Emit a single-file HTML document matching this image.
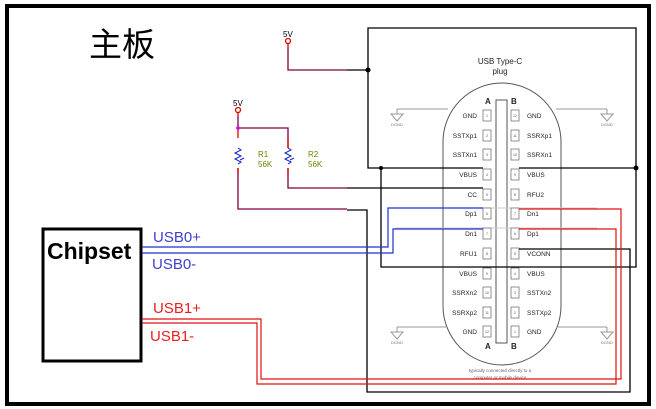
<!DOCTYPE html>
<html><head><meta charset="utf-8"><style>
html,body{margin:0;padding:0;background:#fff;}
svg{display:block;font-family:"Liberation Sans",Arial,sans-serif;}
</style></head><body>
<svg width="656" height="409" viewBox="0 0 656 409" xmlns="http://www.w3.org/2000/svg">
<rect x="7" y="6" width="642" height="398" fill="none" stroke="#000" stroke-width="4"/>
<text x="89" y="56" font-size="33" font-family="'Noto Sans CJK SC',sans-serif" fill="#000">主板</text>

<!-- connector -->
<g fill="none" stroke="#555" stroke-width="1">
<path d="M443,142 A59,59 0 0 1 561,142 L561,306 A59,59 0 0 1 443,306 Z"/>
<path d="M496,343 L496,100 L507,100 L507,343 Z"/>
</g>
<g stroke="#999" stroke-width="1" fill="none">
<path d="M397,109 H448 M556,109 H607 M397,109 V114 M607,109 V114 M397,327 H446 M558,327 H607 M397,327 V332 M607,327 V332"/>
<path d="M391,114 H403 L397,121 Z M601,114 H613 L607,121 Z M391,332 H403 L397,339 Z M601,332 H613 L607,339 Z"/>
<path d="M395,208 H597 M395,228 H597" stroke="#ccc"/>
</g>
<g font-size="4" fill="#777"><text x="391" y="126">DGND</text><text x="601" y="126">DGND</text><text x="391" y="344">DGND</text><text x="601" y="344">DGND</text></g>
<text x="500" y="64" font-size="8" text-anchor="middle" fill="#222">USB Type-C</text>
<text x="500" y="74" font-size="8" text-anchor="middle" fill="#222">plug</text>
<text x="485" y="104" font-size="8" font-weight="bold" fill="#222">A</text>
<text x="511" y="104" font-size="8" font-weight="bold" fill="#222">B</text>
<text x="485" y="349" font-size="8" font-weight="bold" fill="#222">A</text>
<text x="511" y="349" font-size="8" font-weight="bold" fill="#222">B</text>
<g font-size="6.5" fill="#222">
<g text-anchor="end">
<text x="477" y="118">GND</text><text x="477" y="138">SSTXp1</text><text x="477" y="157">SSTXn1</text><text x="477" y="177">VBUS</text><text x="477" y="197">CC</text><text x="477" y="216">Dp1</text><text x="477" y="236">Dn1</text><text x="477" y="256">RFU1</text><text x="477" y="276">VBUS</text><text x="477" y="295">SSRXn2</text><text x="477" y="315">SSRXp2</text><text x="477" y="334">GND</text>
</g>
<text x="527" y="118">GND</text><text x="527" y="138">SSRXp1</text><text x="527" y="157">SSRXn1</text><text x="527" y="177">VBUS</text><text x="527" y="197">RFU2</text><text x="527" y="216">Dn1</text><text x="527" y="236">Dp1</text><text x="527" y="256">VCONN</text><text x="527" y="276">VBUS</text><text x="527" y="295">SSTXn2</text><text x="527" y="315">SSTXp2</text><text x="527" y="334">GND</text>
</g>
<g fill="#fff" stroke="#777" stroke-width="0.8">
<rect x="483" y="110" width="8" height="11"/><rect x="483" y="130" width="8" height="11"/><rect x="483" y="149" width="8" height="11"/><rect x="483" y="169" width="8" height="11"/><rect x="483" y="189" width="8" height="11"/><rect x="483" y="208" width="8" height="11"/><rect x="483" y="228" width="8" height="11"/><rect x="483" y="248" width="8" height="11"/><rect x="483" y="268" width="8" height="11"/><rect x="483" y="287" width="8" height="11"/><rect x="483" y="307" width="8" height="11"/><rect x="483" y="326" width="8" height="11"/>
<rect x="511" y="110" width="8" height="11"/><rect x="511" y="130" width="8" height="11"/><rect x="511" y="149" width="8" height="11"/><rect x="511" y="169" width="8" height="11"/><rect x="511" y="189" width="8" height="11"/><rect x="511" y="208" width="8" height="11"/><rect x="511" y="228" width="8" height="11"/><rect x="511" y="248" width="8" height="11"/><rect x="511" y="268" width="8" height="11"/><rect x="511" y="287" width="8" height="11"/><rect x="511" y="307" width="8" height="11"/><rect x="511" y="326" width="8" height="11"/>
</g>
<g font-size="3.5" fill="#555" text-anchor="middle">
<text x="487" y="117">1</text><text x="487" y="137">2</text><text x="487" y="156">3</text><text x="487" y="176">4</text><text x="487" y="196">5</text><text x="487" y="215">6</text><text x="487" y="235">7</text><text x="487" y="255">8</text><text x="487" y="275">9</text><text x="487" y="294">10</text><text x="487" y="314">11</text><text x="487" y="333">12</text>
<text x="515" y="117">12</text><text x="515" y="137">11</text><text x="515" y="156">10</text><text x="515" y="176">9</text><text x="515" y="196">8</text><text x="515" y="215">7</text><text x="515" y="235">6</text><text x="515" y="255">5</text><text x="515" y="275">4</text><text x="515" y="294">3</text><text x="515" y="314">2</text><text x="515" y="333">1</text>
</g>
<text x="500" y="372" font-size="4.5" text-anchor="middle" fill="#666">typically connected directly to a</text>
<text x="500" y="379" font-size="4.5" text-anchor="middle" fill="#666">computer or mobile device</text>

<!-- black wiring -->
<g fill="none" stroke="#000" stroke-width="1.3">
<path d="M368,70 V28 H636 V267 H381 V168 H368 V70"/>
<path d="M381,168 H483 M519,168 H636"/>
<path d="M347,70 H368"/>
<path d="M347,188 H483"/>
<path d="M347,210 H367 V392 H630 V249 H519"/>
</g>
<circle cx="368" cy="70" r="2.5"/><circle cx="381" cy="168" r="2"/><circle cx="636" cy="168" r="2.5"/>

<!-- 5V nets -->
<g fill="none" stroke="#800040" stroke-width="1.3">
<path d="M288,47 V70 H347"/>
<path d="M238,116 V128 H288 V148"/>
<path d="M238,168 V209 H347"/>
<path d="M288,168 V188 H347"/>
</g>
<g fill="none" stroke="#e00000" stroke-width="1.3">
<path d="M288,43 v4 M238,112 v4 M238,128 v10 M288,138 v10 M238,168 v6 M288,168 v6"/>
<circle cx="288" cy="41" r="2.5"/><circle cx="238" cy="110" r="2.5"/>
</g>
<g fill="none" stroke="#1020c0" stroke-width="1">
<path d="M238,148 l3,2 l-6,3 l6,3 l-6,3 l6,3 l-3,2 M288,148 l3,2 l-6,3 l6,3 l-6,3 l6,3 l-3,2"/>
<path d="M240,160 l4,-2 M290,160 l4,-2"/>
</g>
<circle cx="238" cy="128" r="1.8" fill="#e000e0"/>
<text x="283" y="37" font-size="8" fill="#000">5V</text>
<text x="233" y="106" font-size="8" fill="#000">5V</text>
<g font-size="8" fill="#708000"><text x="258" y="157">R1</text><text x="258" y="167">56K</text><text x="308" y="157">R2</text><text x="308" y="167">56K</text></g>

<!-- chipset -->
<rect x="43" y="229" width="98" height="132" fill="none" stroke="#000" stroke-width="3"/>
<text x="47" y="259" font-size="23" font-weight="bold" fill="#000">Chipset</text>
<g font-size="15"><text x="153" y="242" fill="#4040d0">USB0+</text><text x="152" y="269" fill="#4040d0">USB0-</text>
<text x="153" y="313" fill="#e82020">USB1+</text><text x="150" y="341" fill="#e82020">USB1-</text></g>
<g fill="none" stroke="#2030d0" stroke-width="1.2">
<path d="M142,247 H388 V208 H483"/>
<path d="M142,253 H393 V229 H483"/>
</g>
<g fill="none" stroke="#e01010" stroke-width="1.2">
<path d="M142,319 H261 V379 H621 V209 H519"/>
<path d="M142,323 H257 V384 H616 V229 H519"/>
</g>
</svg>
</body></html>
